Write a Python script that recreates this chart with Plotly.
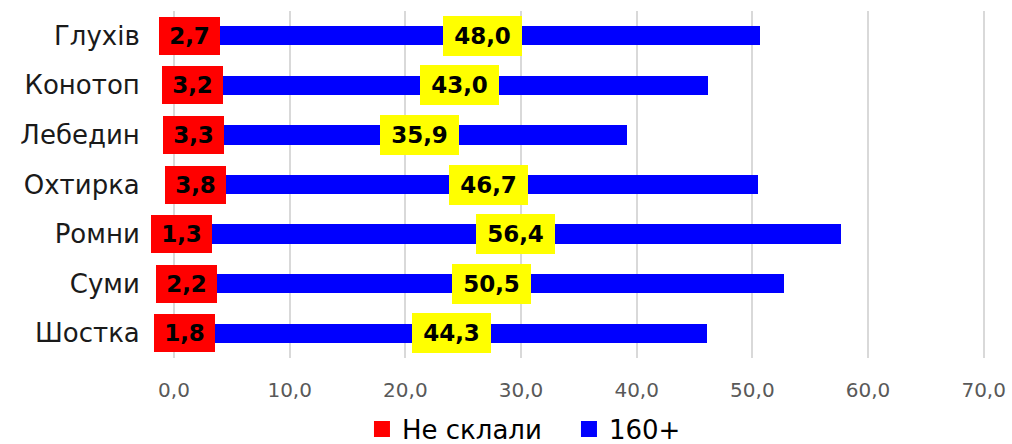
import plotly.graph_objects as go

cities = ["Глухів", "Конотоп", "Лебедин", "Охтирка", "Ромни", "Суми", "Шостка"]
failed = [2.7, 3.2, 3.3, 3.8, 1.3, 2.2, 1.8]
high = [48.0, 43.0, 35.9, 46.7, 56.4, 50.5, 44.3]
tick_vals = [0, 10, 20, 30, 40, 50, 60, 70]
series_names = ["Не склали", "160+"]
series_colors = ["#ff0000", "#0000ff"]

def fmt(v):
    return f"{v:.1f}".replace(".", ",")

fig = go.Figure()
for name, color, vals in zip(series_names, series_colors, [failed, high]):
    fig.add_trace(go.Bar(y=cities, x=vals, orientation="h", name=name, showlegend=False,
                         marker=dict(color=color, line=dict(width=0)), width=0.39))
# legend entries with larger square markers
for name, color in zip(series_names, series_colors):
    fig.add_trace(go.Scatter(x=[None], y=[None], mode="markers", name=name,
                             marker=dict(symbol="square", size=16, color=color,
                                         line=dict(width=0))))

annotations = []
for c, f, h in zip(cities, failed, high):
    annotations.append(dict(x=f / 2, y=c, xref="x", yref="y", text=f"<b>{fmt(f)}</b>",
                            showarrow=False, bgcolor="#ff0000", width=61, height=38,
                            borderpad=0, borderwidth=0,
                            font=dict(family="DejaVu Sans", size=23, color="#000000")))
    annotations.append(dict(x=f + h / 2, y=c, xref="x", yref="y", text=f"<b>{fmt(h)}</b>",
                            showarrow=False, bgcolor="#ffff00", width=79, height=40,
                            borderpad=0, borderwidth=0,
                            font=dict(family="DejaVu Sans", size=23, color="#000000")))

fig.update_layout(
    barmode="stack",
    width=1012, height=444,
    margin=dict(l=174, r=26, t=11, b=86, autoexpand=False),
    paper_bgcolor="white", plot_bgcolor="white",
    separators=", ",
    annotations=annotations,
    showlegend=True,
    legend=dict(orientation="h", x=0.2315, xanchor="left", y=-0.205, yanchor="middle",
                font=dict(family="DejaVu Sans", size=26, color="#000000"),
                traceorder="normal", itemwidth=30,
                entrywidth=162, entrywidthmode="pixels"),
    xaxis=dict(range=[0, 70.2], tickvals=tick_vals, tickformat=".1f",
               showgrid=True, gridcolor="#d9d9d9", gridwidth=2,
               zeroline=True, zerolinecolor="#d9d9d9", zerolinewidth=2,
               showline=False, ticks="outside", ticklen=14, tickcolor="rgba(0,0,0,0)",
               tickfont=dict(family="DejaVu Sans", size=20, color="#595959"),
               ticklabeloverflow="allow", automargin=False, fixedrange=True),
    yaxis=dict(categoryorder="array", categoryarray=cities, autorange="reversed",
               showgrid=False, showline=False, zeroline=False,
               ticks="outside", ticklen=28, tickcolor="rgba(0,0,0,0)",
               tickfont=dict(family="DejaVu Sans", size=26, color="#1a1a1a"),
               automargin=False, fixedrange=True),
)

fig.write_html("out.html", config={"displayModeBar": False},
               post_script="document.body.style.margin='0';document.body.style.overflow='hidden';")
